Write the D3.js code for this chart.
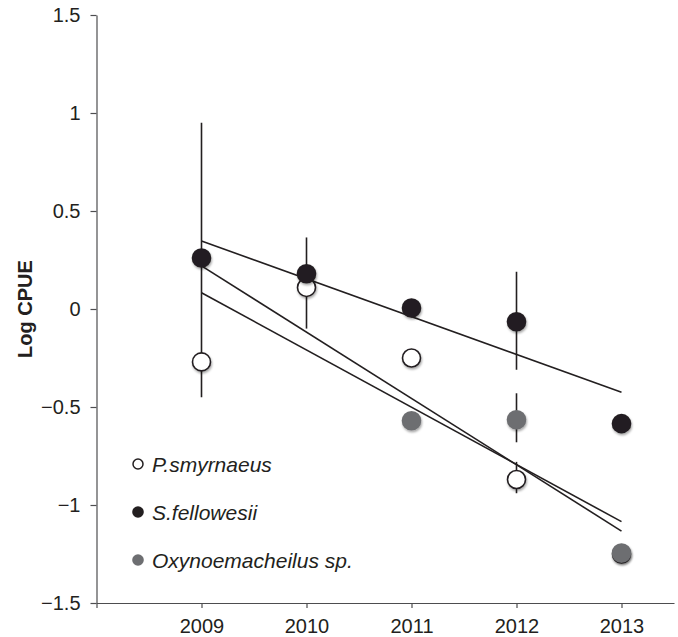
<!DOCTYPE html>
<html>
<head>
<meta charset="utf-8">
<script src="https://cdn.jsdelivr.net/npm/d3@7"></script>
<style>
  body { margin: 0; background: #fff; }
  text { font-family: "Liberation Sans", Arial, sans-serif; fill: #231f20; }
</style>
</head>
<body>
<div id="chart"></div>
<script>
// values
const years = [2009, 2010, 2011, 2012, 2013];
const yTicks = [1.5, 1, 0.5, 0, -0.5, -1, -1.5];
const yTickLabels = ["1.5", "1", "0.5", "0", "\u22120.5", "\u22121", "\u22121.5"];

const smyrnaeus  = [-0.27, 0.11, -0.25, -0.87, -1.25];
const fellowesii = [0.26, 0.18, 0.005, -0.065, -0.585];
const oxynoema   = [null, null, -0.57, -0.565, -1.245];

// error bars: [year, low, high]
const errorBars = [
    [2009, -0.45, 0.95],
    [2010, -0.10, 0.365],
    [2012, -0.31, 0.19],
    [2012, -0.68, -0.43],
    [2012, -0.94, -0.78]
];

// fitted trend lines, value at 2009 and at 2013
const trendFellowesii = [0.347, -0.425];
const trendSmyrnaeus  = [0.083, -1.085];
const trendOxynoema   = [0.22, -1.133];

const series = [
    {name: "P.smyrnaeus", values: smyrnaeus, fill: "#fff", stroke: "#231f20"},
    {name: "S.fellowesii", values: fellowesii, fill: "#231f20", stroke: "none"},
    {name: "Oxynoemacheilus sp.", values: oxynoema, fill: "#6d6e71", stroke: "none"}
];

const width = 678, height = 637;

let svg = d3.select("#chart").append("svg")
    .attr("width", width)
    .attr("height", height);

let defs = svg.append("defs");
defs.append("filter")
    .attr("id", "shadow")
    .attr("x", "-50%").attr("y", "-50%")
    .attr("width", "200%").attr("height", "200%")
    .append("feDropShadow")
    .attr("dx", 0.8).attr("dy", 1.8)
    .attr("stdDeviation", 1.2)
    .attr("flood-color", "#000")
    .attr("flood-opacity", 0.35);

let x = d3.scaleLinear().domain([2008, 2013.5]).range([96.5, 674]);
let y = d3.scaleLinear().domain([-1.5, 1.5]).range([603, 15]);

// axes
let xAxis = d3.axisBottom(x)
    .tickValues([2008].concat(years))
    .tickFormat(d => d === 2008 ? "" : d)
    .tickSize(5)
    .tickPadding(11)
    .tickSizeOuter(0);

let yAxis = d3.axisLeft(y)
    .tickValues(yTicks)
    .tickFormat((d, i) => yTickLabels[i])
    .tickSize(6)
    .tickPadding(10)
    .tickSizeOuter(0);

let gx = svg.append("g")
    .attr("transform", "translate(0," + y(-1.5) + ")")
    .call(xAxis);

let gy = svg.append("g")
    .attr("transform", "translate(" + x(2008) + ",0)")
    .call(yAxis);

[gx, gy].forEach(g => {
    g.selectAll("path, line").attr("stroke", "#4d4d4f").attr("stroke-width", 1.2);
    g.selectAll("text").style("font-size", "20px").attr("fill", "#231f20");
});

svg.append("text")
    .attr("transform", "translate(32," + y(0) + ") rotate(-90)")
    .attr("text-anchor", "middle")
    .style("font-size", "20px")
    .style("font-weight", "bold")
    .text("Log CPUE");

// trend lines
let trends = [trendFellowesii, trendSmyrnaeus, trendOxynoema];
svg.append("g")
    .selectAll("line")
    .data(trends)
    .enter().append("line")
    .attr("x1", x(years[0]))
    .attr("x2", x(years[years.length - 1]))
    .attr("y1", d => y(d[0]))
    .attr("y2", d => y(d[1]))
    .attr("stroke", "#231f20")
    .attr("stroke-width", 1.6);

// error bars
svg.append("g")
    .selectAll("line")
    .data(errorBars)
    .enter().append("line")
    .attr("x1", d => x(d[0]))
    .attr("x2", d => x(d[0]))
    .attr("y1", d => y(d[1]))
    .attr("y2", d => y(d[2]))
    .attr("stroke", "#231f20")
    .attr("stroke-width", 1.6);

// points: white first, then grey, then black on top
let drawOrder = [series[0], series[2], series[1]];
drawOrder.forEach(s => {
    let pts = years.map((yr, i) => ({year: yr, v: s.values[i]}))
        .filter(d => d.v !== null);
    svg.append("g")
        .attr("filter", "url(#shadow)")
        .selectAll("circle")
        .data(pts)
        .enter().append("circle")
        .attr("cx", d => x(d.year))
        .attr("cy", d => y(d.v))
        .attr("r", s.stroke === "none" ? 9.8 : 9)
        .attr("fill", s.fill)
        .attr("stroke", s.stroke)
        .attr("stroke-width", 1.6);
});

// legend
let legend = svg.append("g")
    .attr("transform", "translate(138,464)");

let item = legend.selectAll("g")
    .data(series)
    .enter().append("g")
    .attr("transform", (d, i) => "translate(0," + i * 48 + ")");

item.append("circle")
    .attr("r", d => d.stroke === "none" ? 5.8 : 5)
    .attr("fill", d => d.fill)
    .attr("stroke", d => d.stroke)
    .attr("stroke-width", 1.5);

item.append("text")
    .attr("x", 14)
    .attr("dy", "0.36em")
    .style("font-size", "21px")
    .style("font-style", "italic")
    .text(d => d.name);
</script>
</body>
</html>
